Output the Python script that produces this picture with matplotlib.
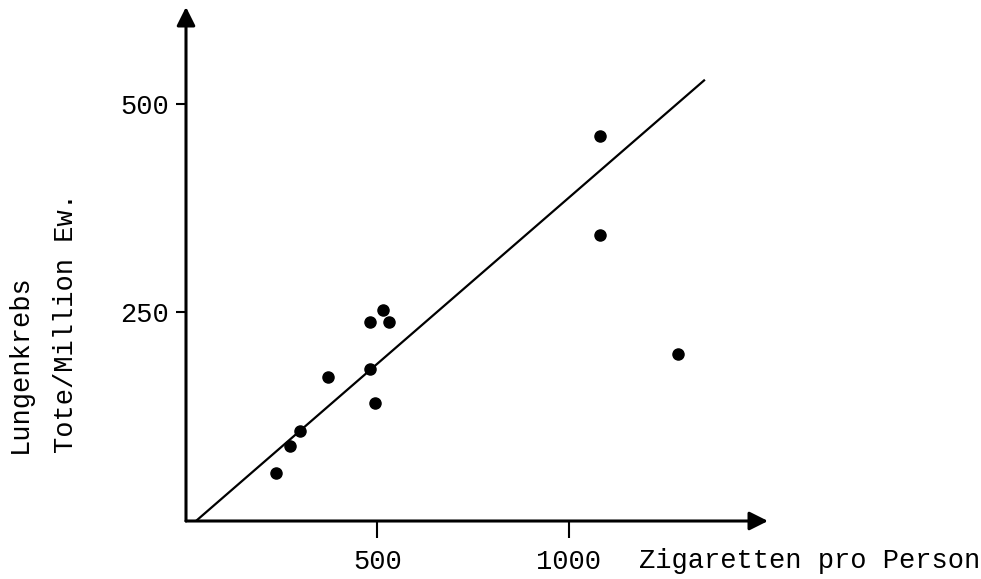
import matplotlib
matplotlib.use("Agg")
import matplotlib.pyplot as plt

# cigarettes per person vs. lung cancer deaths per million inhabitants
zigaretten = [235, 272, 298, 372, 480, 494, 480, 514, 531, 1082, 1082, 1285]
tote = [58, 90, 108, 172, 182, 142, 239, 253, 238, 461, 343, 200]

# fitted line
fit_x = [26, 1353]
fit_y = [0, 528]

x_ticks = [500, 1000]
y_ticks = [250, 500]
x_max = 1520
y_max = 616

plt.rcParams["font.family"] = ["Liberation Mono", "DejaVu Sans Mono"]
plt.rcParams["font.size"] = 19.5

W, H = 981, 579
fig = plt.figure(figsize=(W / 100, H / 100), dpi=100)
ax = fig.add_axes([186 / W, (H - 521) / H, (768 - 186) / W, (521 - 7) / H])

ax.plot(fit_x, fit_y, color="black", linewidth=1.6)
ax.plot(zigaretten, tote, "o", color="black", markersize=8)

ax.set_xlim(0, x_max)
ax.set_ylim(0, y_max)
for s in ax.spines.values():
    s.set_visible(False)

# axes drawn as arrows
arrow = dict(arrowstyle="-|>", color="black", linewidth=2.2,
             mutation_scale=28, shrinkA=0, shrinkB=0)
ax.annotate("", xy=(x_max, 0), xytext=(0, 0), arrowprops=arrow,
            annotation_clip=False)
ax.annotate("", xy=(0, y_max), xytext=(0, 0), arrowprops=arrow,
            annotation_clip=False)

ax.set_xticks(x_ticks)
ax.set_yticks(y_ticks)
ax.tick_params(axis="x", direction="out", length=12, width=1.5, pad=8)
ax.tick_params(axis="y", direction="out", length=7, width=1.5, pad=5)

fig.text(639 / W, 1 - 568 / H, "Zigaretten pro Person", ha="left", va="baseline")
fig.text(20 / W, 1 - 453 / H, "Lungenkrebs", rotation=90, ha="center", va="bottom")
fig.text(66 / W, 1 - 453 / H, "Tote/Million Ew.", rotation=90, ha="center", va="bottom")

fig.savefig("out.png", dpi=100)
